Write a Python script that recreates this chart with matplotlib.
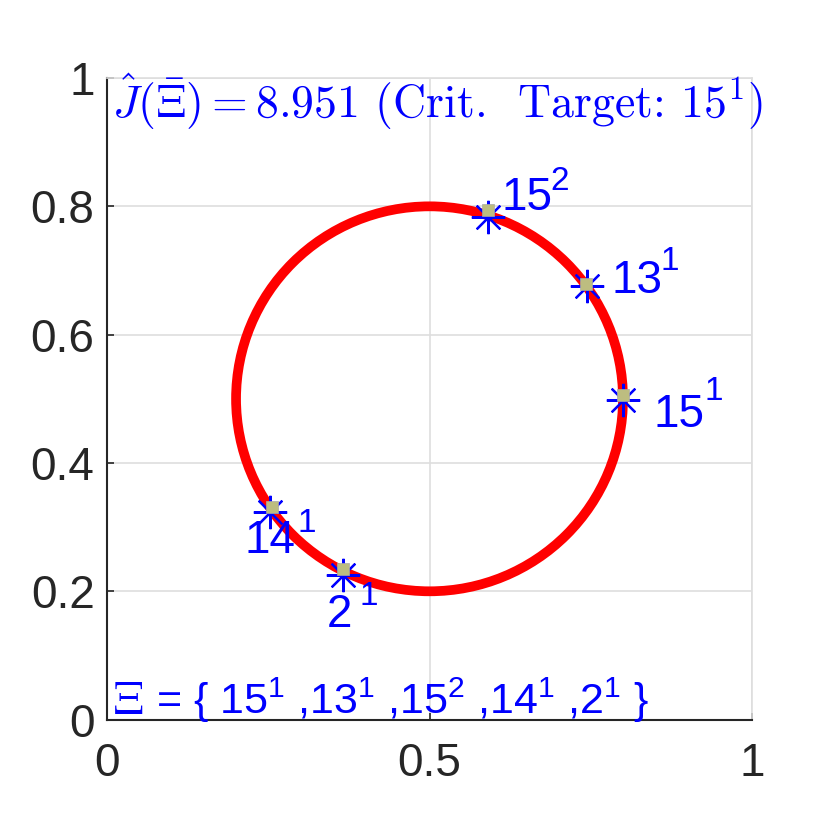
import matplotlib.pyplot as plt
from matplotlib.patches import Circle

# circle path
circle_center = (0.5, 0.5)
circle_radius = 0.3

# selected points (asterisks) and sample points (squares)
label_base = ['15', '13', '15', '14', '2']
label_sup = ['1', '1', '2', '1', '1']
star_x = [0.800, 0.744, 0.591, 0.253, 0.366]
star_y = [0.498, 0.676, 0.783, 0.324, 0.226]
sq_x = [0.800, 0.743, 0.591, 0.256, 0.366]
sq_y = [0.506, 0.679, 0.794, 0.332, 0.234]

x_ticks = [0, 0.5, 1]
y_ticks = [0, 0.2, 0.4, 0.6, 0.8, 1]
j_value = 8.951
target = ('15', '1')

# label offsets in pixels: (base dx, base dy, sup dx, sup dy)
offsets = [(31, -27, 82, 0),
           (25, -7, 74, 16),
           (13, 7, 62, 27),
           (-26, -41, 27, -20),
           (-16, -52, 16, -30)]

plt.rcParams['font.family'] = 'Liberation Sans'
plt.rcParams['mathtext.fontset'] = 'custom'
plt.rcParams['mathtext.rm'] = 'Liberation Sans'

dark = (0.15, 0.15, 0.15)
light = (0.87, 0.87, 0.87)

fig = plt.figure(figsize=(8.3, 8.3), dpi=100)
ax = fig.add_axes([0.129, 0.133, 0.777, 0.773])

ax.add_patch(Circle(circle_center, circle_radius, fill=False, color='red', lw=7, zorder=3))
ax.plot(star_x, star_y, ls='none', marker=(8, 2, 0), ms=24, mew=1.6, color='blue', zorder=4)
ax.plot(sq_x, sq_y, ls='none', marker='s', ms=8.5, color='#bdbd80', mec='#a8a8a8', mew=0.5, zorder=5)

for x, y, b, s, off in zip(star_x, star_y, label_base, label_sup, offsets):
    ax.annotate(b, (x, y), xytext=(off[0], off[1]), textcoords='offset pixels',
                fontsize=33, color='blue', va='baseline', ha='left', zorder=6)
    ax.annotate(s, (x, y), xytext=(off[2], off[3]), textcoords='offset pixels',
                fontsize=24, color='blue', va='baseline', ha='left', zorder=6)

# LaTeX-like title: math in cm, plain words in cmr10
title = r'$\hat{J}(\bar{\Xi}) = %.3f$ (Crit.  Target: $%s^{%s}$)' % (j_value, target[0], target[1])
ax.text(0.008, 0.938, title, transform=ax.transAxes, fontsize=33, color='blue',
        family='cmr10', math_fontfamily='cm', va='baseline', ha='left', zorder=6)

ax.text(0.008, 0.008, r'$\Xi$', transform=ax.transAxes, fontsize=34, color='blue',
        math_fontfamily='cm', va='baseline', ha='left', zorder=6)
set_text = '= { ' + ','.join(r'$\mathregular{%s^{%s}}$ ' % (b, s)
                             for b, s in zip(label_base, label_sup)) + '}'
ax.text(0.076, 0.008, set_text, transform=ax.transAxes, fontsize=31, color='blue',
        va='baseline', ha='left', zorder=6)

ax.set_xlim(0, 1)
ax.set_ylim(0, 1)
ax.set_xticks(x_ticks)
ax.set_xticklabels(['0', '0.5', '1'])
ax.set_yticks(y_ticks)
ax.set_yticklabels(['0', '0.2', '0.4', '0.6', '0.8', '1'])
ax.grid(True, color=light, lw=1.2)
ax.set_axisbelow(True)
ax.tick_params(direction='in', length=5, width=1.2, colors=dark, labelsize=33)
ax.tick_params(axis='x', pad=16)
ax.tick_params(axis='y', pad=9)
for side in ['left', 'bottom']:
    ax.spines[side].set_color(dark)
    ax.spines[side].set_linewidth(1.5)
for side in ['top', 'right']:
    ax.spines[side].set_color(light)
    ax.spines[side].set_linewidth(1.2)

fig.savefig('out.png', dpi=100)
